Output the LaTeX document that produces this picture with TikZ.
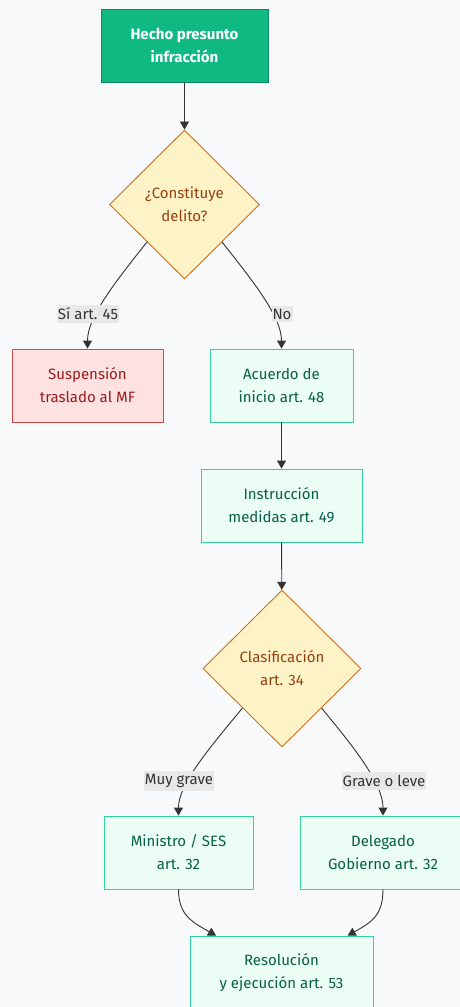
\documentclass[tikz,border=0pt]{standalone}
\usepackage{fontspec}
\setmainfont{Fira Sans}
\usepackage{tikz}
\usetikzlibrary{shapes.geometric, arrows.meta, positioning, calc}
\definecolor{colorBack}{RGB}{248, 249, 251}
\definecolor{colorStart}{RGB}{16, 185, 129}
\definecolor{colorStartLine}{RGB}{14, 138, 98}
\definecolor{colorDec}{RGB}{254, 243, 199}
\definecolor{colorDecLine}{RGB}{204, 112, 28}
\definecolor{colorDecText}{RGB}{146, 64, 14}
\definecolor{colorStop}{RGB}{254, 226, 226}
\definecolor{colorStopLine}{RGB}{214, 72, 72}
\definecolor{colorStopText}{RGB}{153, 27, 27}
\definecolor{colorPro}{RGB}{236, 253, 245}
\definecolor{colorProLine}{RGB}{52, 211, 153}
\definecolor{colorProText}{RGB}{6, 95, 70}
\definecolor{colorEdge}{RGB}{51, 51, 51}
\definecolor{colorLabel}{RGB}{232, 232, 232}
\tikzstyle{base} = [font=\fontsize{15}{23}\selectfont, align=center, inner sep=0pt, line width=0.9pt]
\tikzstyle{startstop} = [base, rectangle, minimum height=73pt, text=white, draw=colorStartLine, fill=colorStart, font=\fontsize{15}{23}\selectfont\bfseries]
\tikzstyle{process} = [base, rectangle, minimum height=73pt, text=colorProText, draw=colorProLine, fill=colorPro]
\tikzstyle{stopbox} = [base, rectangle, minimum height=73pt, text=colorStopText, draw=colorStopLine, fill=colorStop]
\tikzstyle{decision} = [base, diamond, text=colorDecText, draw=colorDecLine, fill=colorDec]
\tikzstyle{edgelabel} = [font=\fontsize{15}{17}\selectfont, text=colorEdge, fill=colorLabel, inner xsep=1pt, inner ysep=3pt]
\tikzstyle{arrow} = [draw=colorEdge, line width=0.9pt, -{Triangle[length=8pt, width=9pt]}]

\begin{document}
\begin{tikzpicture}[x=1pt, y=-1pt]

	% background and frame
	\fill[colorBack] (0,0) rectangle (460,1007);
	\useasboundingbox (0,0) rectangle (460,1007);
	\clip (0,0) rectangle (460,1007);

	% nodes
	\node (start)[startstop, minimum width=167pt] at (184.5,45.5) {Hecho presunto \\ infracción};
	\node (decDelito)[decision, minimum width=150pt, minimum height=149pt] at (184.5,204.5) {¿Constituye \\ delito?};
	\node (pSuspension)[stopbox, minimum width=151pt] at (87.5,385.5) {Suspensión \\ traslado al MF};
	\node (pAcuerdo)[process, minimum width=143pt] at (281.5,385.5) {Acuerdo de \\ inicio art. 48};
	\node (pInstruccion)[process, minimum width=161pt] at (281.5,505.5) {Instrucción \\ medidas art. 49};
	\node (decClasif)[decision, minimum width=158pt, minimum height=157pt] at (282,668.5) {Clasificación \\ art. 34};
	\node (pMinistro)[process, minimum width=149pt] at (178.5,852.5) {Ministro / SES \\ art. 32};
	\node (pDelegado)[process, minimum width=166pt] at (383,852.5) {Delegado \\ Gobierno art. 32};
	\node (pResolucion)[process, minimum width=183pt] at (281.5,972.5) {Resolución \\ y ejecución art. 53};

	% lines and arrows
	\draw[arrow] (start) -- (decDelito);
	\draw[arrow] (decDelito.225) .. controls (112,286) and (87.5,318) .. (pSuspension.north);
	\draw[arrow] (decDelito.315) .. controls (257,286) and (281.5,318) .. (pAcuerdo.north);
	\draw[arrow] (pAcuerdo) -- (pInstruccion);
	\draw[arrow] (pInstruccion) -- (decClasif);
	\draw[arrow] (decClasif.225) .. controls (206,752) and (178.5,785) .. (pMinistro.north);
	\draw[arrow] (decClasif.315) .. controls (358,752) and (383,785) .. (pDelegado.north);
	\draw[arrow] (pMinistro.south) .. controls (178.5,915) and (192,922) .. (pResolucion);
	\draw[arrow] (pDelegado.south) .. controls (383,915) and (372,922) .. (pResolucion);

	% edge labels
	\node (lblSi)[edgelabel] at (88,314) {Sí art. 45};
	\node (lblNo)[edgelabel] at (282,314) {No};
	\node (lblMuy)[edgelabel] at (179,781) {Muy grave};
	\node (lblGrave)[edgelabel] at (384,781) {Grave o leve};

\end{tikzpicture}
\end{document}
